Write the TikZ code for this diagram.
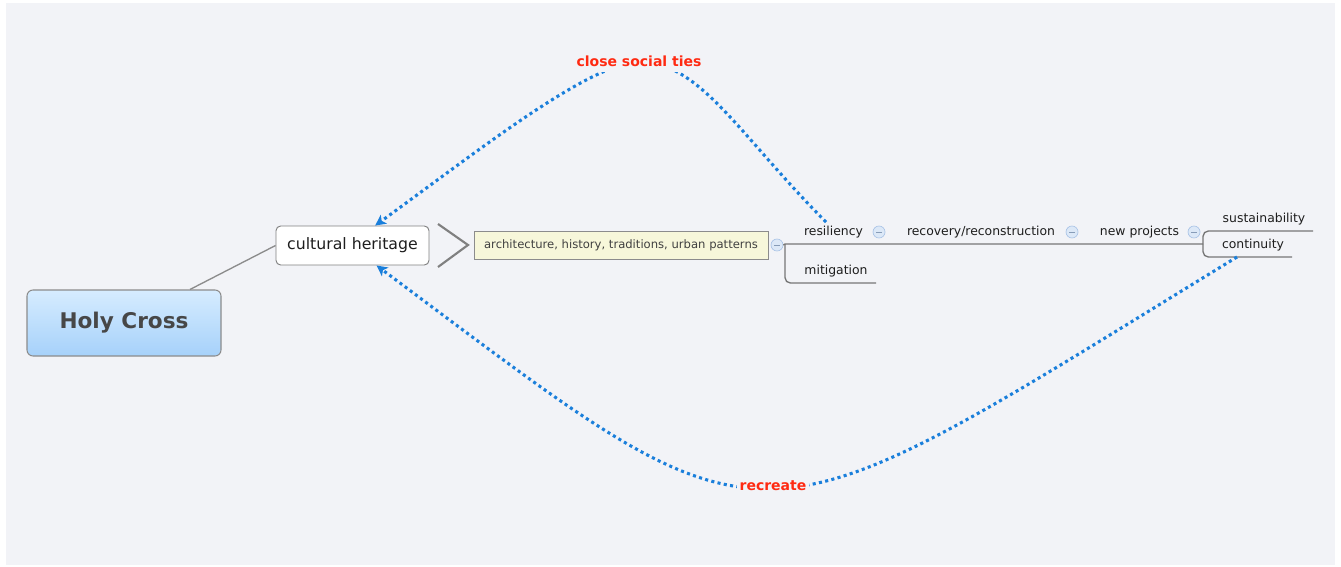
\documentclass[tikz,border=0pt]{standalone}
\usepackage{fontspec}
\setmainfont{DejaVu Sans}
\usetikzlibrary{arrows.meta}
\definecolor{bgc}{HTML}{F2F3F7}
\definecolor{treeg}{HTML}{767676}
\definecolor{dotblue}{HTML}{1A7FDB}
\definecolor{lblred}{HTML}{FF2A12}
\definecolor{txtd}{HTML}{1E1E1E}
\definecolor{holytop}{HTML}{D6ECFF}
\definecolor{holybot}{HTML}{A6D1FA}
\definecolor{yfill}{HTML}{F7F7DA}
\definecolor{minfill}{HTML}{DCE8F7}
\definecolor{mindraw}{HTML}{A9C3E6}
\tikzset{
  holybox/.style={draw=black!45, line width=0.8pt, rounded corners=4.5pt,
    top color=holytop, bottom color=holybot, minimum width=145.5pt, minimum height=49.5pt,
    font=\fontsize{16.2}{18}\selectfont\bfseries, text=black!72},
  chbox/.style={draw=black!50, line width=0.7pt, rounded corners=3.5pt, fill=white,
    minimum width=114.75pt, minimum height=29.25pt, font=\fontsize{11.8}{14}\selectfont, text=txtd},
  ybox/.style={draw=black!45, line width=0.7pt, fill=yfill, minimum width=220.5pt,
    minimum height=21pt, font=\fontsize{8.7}{10}\selectfont, text=black!75},
  mcirc/.style={circle, draw=mindraw, fill=minfill, line width=0.5pt, minimum size=9pt, inner sep=0pt,
    path picture={\draw[mindraw!80!black, line width=0.6pt] ([xshift=-2.2pt]path picture bounding box.center) -- ([xshift=2.2pt]path picture bounding box.center);}},
  blbl/.style={inner sep=0pt, font=\fontsize{9.3}{11}\selectfont, text=txtd},
  tree/.style={draw=treeg, line width=1pt},
  dotc/.style={draw=dotblue, line width=2.3pt, dash pattern=on 2.3pt off 2.5pt,
    -{Stealth[length=8pt,width=8pt,inset=2pt]}},
  rlbl/.style={fill=bgc, text=lblred, font=\fontsize{10.5}{12}\selectfont\bfseries}
}
\begin{document}
\begin{tikzpicture}[x=0.75pt,y=-0.75pt]
\useasboundingbox (0,0) rectangle (1341,567);
\fill[white] (0,0) rectangle (1341,567);
\fill[bgc] (6,3) rectangle (1335,565);

% nodes
\node[holybox] (holy) at (124,323) {Holy Cross};
\node[chbox] (cult) at (352.5,245.5) {cultural heritage};
\node[ybox] (arch) at (621,245) {architecture, history, traditions, urban patterns};
\node[mcirc] (c0) at (777,245) {};
\node[blbl] (res) at (833.5,232) {resiliency};
\node[mcirc] (c1) at (879,232) {};
\node[blbl] (rec) at (981,232) {recovery/reconstruction};
\node[mcirc] (c2) at (1072,232) {};
\node[blbl] (newp) at (1139.5,232) {new projects};
\node[mcirc] (c3) at (1194,232) {};
\node[blbl] (sus) at (1264,219) {sustainability};
\node[blbl] (cont) at (1253,245) {continuity};
\node[blbl] (mit) at (836,271) {mitigation};

% coordinates of tree junctions
\coordinate (j1) at (785,244);
\coordinate (j2) at (1203,244);

% connectors
\draw[draw=black!45, line width=1pt] ([xshift=49.5pt]holy.north) -- (cult.west);
\draw[draw=black!50, line width=1.6pt] (438,224) -- (arch.west -| 468,0) -- (438,267);
\draw[tree] (c0.east) -- (j1) -- (j2);
\draw[tree, rounded corners=4pt] (j1) |- (876,283);
\draw[tree, rounded corners=4pt] (j2) |- (1313,231);
\draw[tree, rounded corners=4pt] (j2) |- (1292,257);

% dotted relationship curves
\coordinate (rs) at (826,222);
\coordinate (cs) at (1237,257);
\coordinate (top1) at (640,62);
\draw[dotc] (rs) .. controls (740,136) and (700,62) .. (top1)
  .. controls (590,62) and (478,151) .. ([xshift=17pt]cult.north);
\draw[dotc] (cs) .. controls (738,562) and (780,566) .. ([xshift=18pt]cult.south);

\node[rlbl, inner xsep=1pt, inner ysep=4pt] (lab1) at (639,61) {close social ties};
\node[rlbl, inner xsep=2pt, inner ysep=2pt] (lab2) at (773,486) {recreate};
\end{tikzpicture}
\end{document}
